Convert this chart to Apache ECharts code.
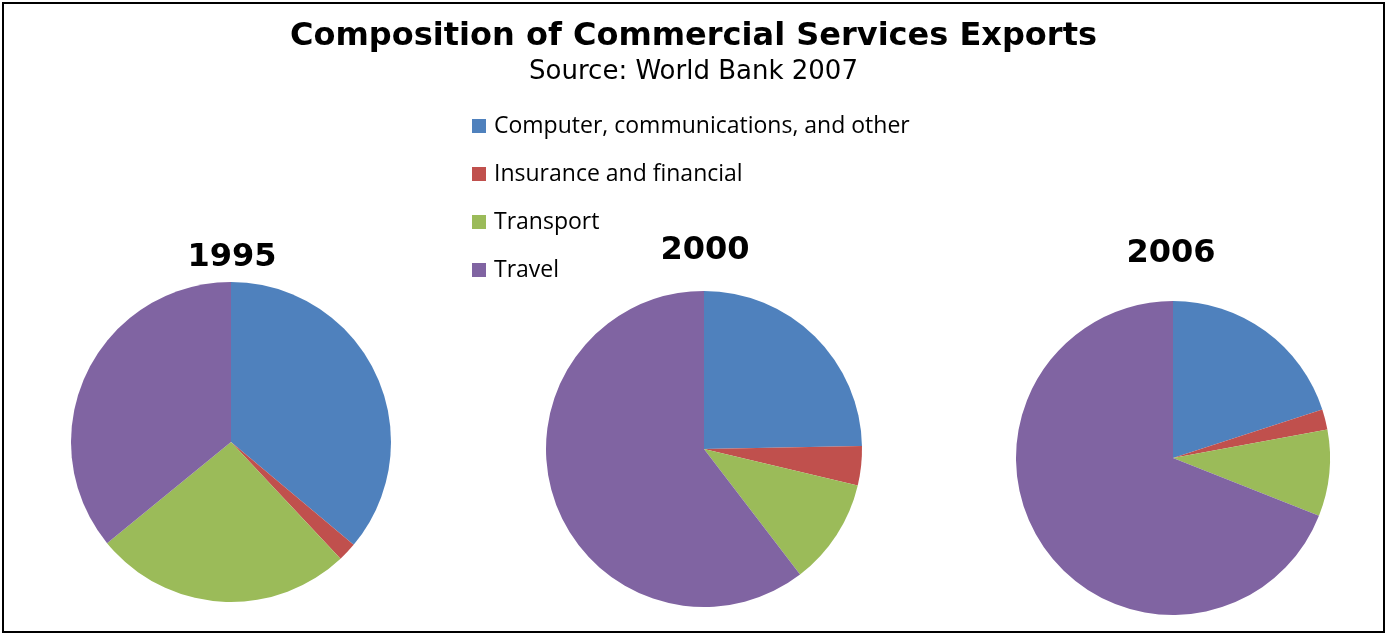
<!DOCTYPE html>
<html>
<head>
<meta charset="utf-8">
<style>
  html, body { margin: 0; padding: 0; background: #fff; }
  #chart { width: 1387px; height: 635px; }
</style>
<script src="https://cdn.jsdelivr.net/npm/echarts@6/dist/echarts.min.js"></script>
</head>
<body>
<div id="chart"></div>
<script>
// Export categories and their shares (%) for each year
const categories = ['Computer, communications, and other', 'Insurance and financial', 'Transport', 'Travel'];
const years = ['1995', '2000', '2006'];
const shares1995 = [36.1, 1.9, 26.1, 35.9];
const shares2000 = [24.7, 4.0, 10.9, 60.4];
const shares2006 = [20.0, 2.1, 8.9, 69.0];
const colors = ['#4F81BD', '#C0504D', '#9BBB59', '#8064A2'];

const allShares = [shares1995, shares2000, shares2006];
// pie placement: [centerX, centerY, radius] and year label position
const pieLayout = [
  { center: [231, 442], radius: 160, label: [232, 258] },
  { center: [704, 449], radius: 158, label: [705, 251] },
  { center: [1173, 458], radius: 157, label: [1171, 254] }
];

const chart = echarts.init(document.getElementById('chart'));

const series = allShares.map((vals, i) => ({
  type: 'pie',
  name: years[i],
  center: pieLayout[i].center,
  radius: pieLayout[i].radius,
  startAngle: 90,
  clockwise: true,
  silent: true,
  label: { show: false },
  labelLine: { show: false },
  itemStyle: { borderWidth: 0 },
  emphasis: { disabled: true },
  data: categories.map((c, k) => ({ name: c, value: vals[k] }))
}));

const yearTitles = years.map((y, i) => ({
  type: 'text',
  x: pieLayout[i].label[0],
  y: pieLayout[i].label[1],
  style: {
    text: y,
    fill: '#000',
    font: 'bold 32px "DejaVu Sans", Verdana, sans-serif',
    textAlign: 'center',
    textVerticalAlign: 'middle'
  }
}));

chart.setOption({
  animation: false,
  color: colors,
  title: [
    {
      text: 'Composition of Commercial Services Exports',
      left: 'center',
      top: 16,
      textStyle: { fontFamily: '"DejaVu Sans", Verdana, sans-serif', fontWeight: 'bold', fontSize: 32, color: '#000' }
    },
    {
      text: 'Source: World Bank 2007',
      left: 'center',
      top: 54,
      textStyle: { fontFamily: '"DejaVu Sans", Verdana, sans-serif', fontWeight: 'normal', fontSize: 26, color: '#000' }
    }
  ],
  legend: {
    orient: 'vertical',
    left: 472,
    top: 114,
    padding: 0,
    itemWidth: 14,
    itemHeight: 14,
    itemGap: 24,
    icon: 'rect',
    selectedMode: false,
    data: categories,
    textStyle: { fontFamily: '"Open Sans", "Liberation Sans", sans-serif', fontSize: 23, color: '#000', lineHeight: 24, padding: [0, 0, 0, 3] }
  },
  graphic: [
    {
      type: 'rect',
      shape: { x: 3, y: 3, width: 1381, height: 629 },
      style: { fill: 'none', stroke: '#000', lineWidth: 2 }
    }
  ].concat(yearTitles),
  series: series
});
</script>
</body>
</html>
